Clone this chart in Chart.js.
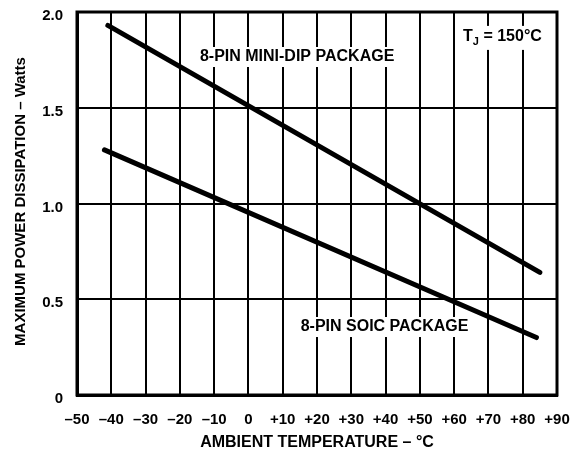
<!DOCTYPE html>
<html>
<head>
<meta charset="utf-8">
<script src="https://cdn.jsdelivr.net/npm/chart.js@4/dist/chart.umd.min.js"></script>
<style>
  html, body { margin: 0; padding: 0; background: #fff; }
  #wrap { width: 574px; height: 452px; }
</style>
</head>
<body>
<div id="wrap"><canvas id="c" width="574" height="452"></canvas></div>
<script>
// ---- data ----
const miniDipTemps = [-41, 85];          // ambient temperature, °C
const miniDipWatts = [1.93, 0.64];       // max power dissipation, W
const soicTemps = [-42, 84];
const soicWatts = [1.28, 0.30];
const xTickValues = [-50, -40, -30, -20, -10, 0, 10, 20, 30, 40, 50, 60, 70, 80, 90];
const yTickValues = [0, 0.5, 1.0, 1.5, 2.0];
const seriesNames = ['8-PIN MINI-DIP PACKAGE', '8-PIN SOIC PACKAGE'];
const xTitle = 'AMBIENT TEMPERATURE – °C';
const yTitle = 'MAXIMUM POWER DISSIPATION – Watts';

const FONT = '"Liberation Sans", Arial, Helvetica, sans-serif';

function toPoints(xs, ys) { return xs.map((x, i) => ({ x: x, y: ys[i] })); }

// annotation anchors (data coordinates)
const labelAnchors = [
  { text: seriesNames[0], x: 14.2, y: 1.765 },
  { text: seriesNames[1], x: 39.7, y: 0.355 }
];

const overlay = {
  id: 'overlay',
  afterDatasetsDraw(chart) {
    const ctx = chart.ctx;
    const a = chart.chartArea;
    const xs = chart.scales.x, ys = chart.scales.y;
    ctx.save();
    // frame
    ctx.strokeStyle = '#000';
    ctx.lineWidth = 3;
    ctx.strokeRect(a.left, a.top, a.right - a.left, a.bottom - a.top);
    // series labels with white backing
    ctx.font = 'bold 16px ' + FONT;
    ctx.textAlign = 'center';
    ctx.textBaseline = 'middle';
    labelAnchors.forEach(l => {
      const px = xs.getPixelForValue(l.x), py = ys.getPixelForValue(l.y);
      const w = ctx.measureText(l.text).width;
      ctx.fillStyle = '#fff';
      ctx.fillRect(px - w / 2 - 4, py - 10, w + 8, 20);
      ctx.fillStyle = '#000';
      ctx.fillText(l.text, px, py);
    });
    // T_J = 150°C
    let tx = xs.getPixelForValue(62.6), ty = ys.getPixelForValue(1.87);
    ctx.textAlign = 'left';
    ctx.font = 'bold 16px ' + FONT;
    const wT = ctx.measureText('T').width;
    ctx.font = 'bold 11px ' + FONT;
    const wJ = ctx.measureText('J').width;
    ctx.font = 'bold 16px ' + FONT;
    const wR = ctx.measureText(' = 150°C').width;
    ctx.fillStyle = '#fff';
    ctx.fillRect(tx - 4, ty - 11, wT + wJ + wR + 8, 24);
    ctx.fillStyle = '#000';
    ctx.fillText('T', tx, ty);
    ctx.font = 'bold 11px ' + FONT;
    ctx.fillText('J', tx + wT, ty + 5);
    ctx.font = 'bold 16px ' + FONT;
    ctx.fillText(' = 150°C', tx + wT + wJ, ty);
    // axis titles
    ctx.textAlign = 'center';
    ctx.font = 'bold 16px ' + FONT;
    ctx.fillText(xTitle, (a.left + a.right) / 2, 443);
    ctx.translate(21, (a.top + a.bottom) / 2 - 2);
    ctx.rotate(-Math.PI / 2);
    ctx.font = 'bold 15px ' + FONT;
    ctx.fillText(yTitle, 0, 0);
    ctx.restore();
  }
};

const lineStyle = {
  borderColor: '#000',
  borderWidth: 5,
  borderCapStyle: 'round',
  pointRadius: 0,
  fill: false,
  tension: 0
};

new Chart(document.getElementById('c'), {
  type: 'line',
  data: {
    datasets: [
      Object.assign({ label: seriesNames[0], data: toPoints(miniDipTemps, miniDipWatts) }, lineStyle),
      Object.assign({ label: seriesNames[1], data: toPoints(soicTemps, soicWatts) }, lineStyle)
    ]
  },
  options: {
    responsive: false,
    animation: false,
    devicePixelRatio: 1,
    layout: { padding: { top: 12, right: 17, left: 0, bottom: 0 } },
    plugins: { legend: { display: false }, tooltip: { enabled: false } },
    scales: {
      x: {
        type: 'linear',
        min: -50, max: 90,
        afterBuildTicks: s => { s.ticks = xTickValues.map(v => ({ value: v })); },
        afterFit: s => { s.height = 57; s.paddingLeft = 0; s.paddingRight = 0; },
        grid: { color: '#000', lineWidth: 2, drawTicks: false },
        border: { display: true, color: '#000', width: 3 },
        ticks: {
          color: '#000',
          padding: 16,
          maxRotation: 0,
          autoSkip: false,
          font: { family: FONT, size: 15, weight: 'bold' },
          callback: v => v < 0 ? '–' + Math.abs(v) : (v > 0 ? '+' + v : '0')
        }
      },
      y: {
        type: 'linear',
        min: 0, max: 2,
        afterBuildTicks: s => { s.ticks = yTickValues.map(v => ({ value: v })); },
        afterFit: s => { s.width = 77; s.paddingTop = 0; s.paddingBottom = 0; },
        grid: { color: '#000', lineWidth: 2, drawTicks: false },
        border: { display: true, color: '#000', width: 3 },
        ticks: {
          color: '#000',
          padding: 14,
          labelOffset: 4,
          autoSkip: false,
          font: { family: FONT, size: 15, weight: 'bold' },
          callback: v => v === 0 ? '0' : v.toFixed(1)
        }
      }
    }
  },
  plugins: [overlay]
});
</script>
</body>
</html>
